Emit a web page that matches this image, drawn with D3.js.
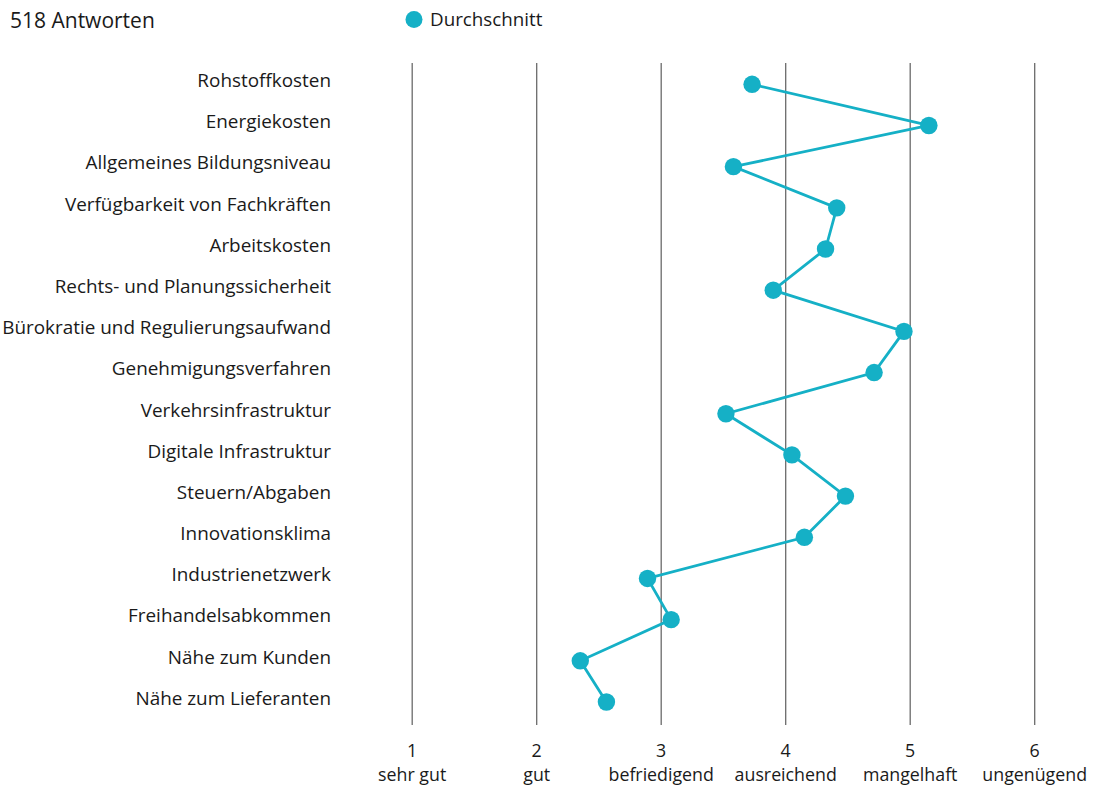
<!DOCTYPE html>
<html>
<head>
<meta charset="utf-8">
<script src="https://cdn.jsdelivr.net/npm/d3@7"></script>
<style>
  html, body { margin: 0; padding: 0; background: #fff; }
  svg { display: block; }
  text { font-family: "Open Sans", sans-serif; fill: #1a1a1a; }
</style>
</head>
<body>
<svg id="chart" width="1093" height="787"></svg>
<script>
const categories = [
  "Rohstoffkosten",
  "Energiekosten",
  "Allgemeines Bildungsniveau",
  "Verfügbarkeit von Fachkräften",
  "Arbeitskosten",
  "Rechts- und Planungssicherheit",
  "Bürokratie und Regulierungsaufwand",
  "Genehmigungsverfahren",
  "Verkehrsinfrastruktur",
  "Digitale Infrastruktur",
  "Steuern/Abgaben",
  "Innovationsklima",
  "Industrienetzwerk",
  "Freihandelsabkommen",
  "Nähe zum Kunden",
  "Nähe zum Lieferanten"
];
const averages = [3.73, 5.15, 3.58, 4.41, 4.32, 3.90, 4.95, 4.71, 3.52, 4.05, 4.48, 4.15, 2.89, 3.08, 2.35, 2.56];
const tickValues = [1, 2, 3, 4, 5, 6];
const tickLabels = ["sehr gut", "gut", "befriedigend", "ausreichend", "mangelhaft", "ungenügend"];
const seriesName = "Durchschnitt";
const responsesLabel = "518 Antworten";

const color = "#15b0c6";
const svg = d3.select("#chart");

const x = d3.scaleLinear().domain([1, 6]).range([412.2, 1034.7]);
const y = d3.scalePoint().domain(categories).range([84.3, 702]);

// grid lines
svg.append("g").selectAll("line").data(tickValues).join("line")
  .attr("x1", d => x(d)).attr("x2", d => x(d))
  .attr("y1", 63).attr("y2", 725)
  .attr("stroke", "#6b6b6b").attr("stroke-width", 1.3);

// tick labels
const tg = svg.append("g").selectAll("g").data(tickValues).join("g")
  .attr("transform", d => `translate(${x(d)},0)`);
tg.append("text").attr("y", 756.5).attr("text-anchor", "middle")
  .style("font-size", "17.8px").text(d => d);
tg.append("text").attr("y", 781.3).attr("text-anchor", "middle")
  .style("font-size", "17.8px").text((d, i) => tickLabels[i]);

// category labels
svg.append("g").selectAll("text").data(categories).join("text")
  .attr("x", 331).attr("y", d => y(d) + 2.8)
  .attr("text-anchor", "end")
  .style("font-size", "18.9px")
  .text(d => d);

// line
const pts = categories.map((c, i) => [x(averages[i]), y(c)]);
svg.append("path")
  .attr("d", d3.line()(pts))
  .attr("fill", "none").attr("stroke", color).attr("stroke-width", 2.8);

// points
svg.append("g").selectAll("circle").data(categories).join("circle")
  .attr("cx", (d, i) => x(averages[i])).attr("cy", d => y(d))
  .attr("r", 8.7).attr("fill", color);

// title
svg.append("text").attr("x", 10).attr("y", 27.5)
  .style("font-size", "21px").text(responsesLabel);

// legend
svg.append("circle").attr("cx", 414).attr("cy", 19.5).attr("r", 8.5).attr("fill", color);
svg.append("text").attr("x", 430).attr("y", 26)
  .style("font-size", "18.8px").text(seriesName);
</script>
</body>
</html>
